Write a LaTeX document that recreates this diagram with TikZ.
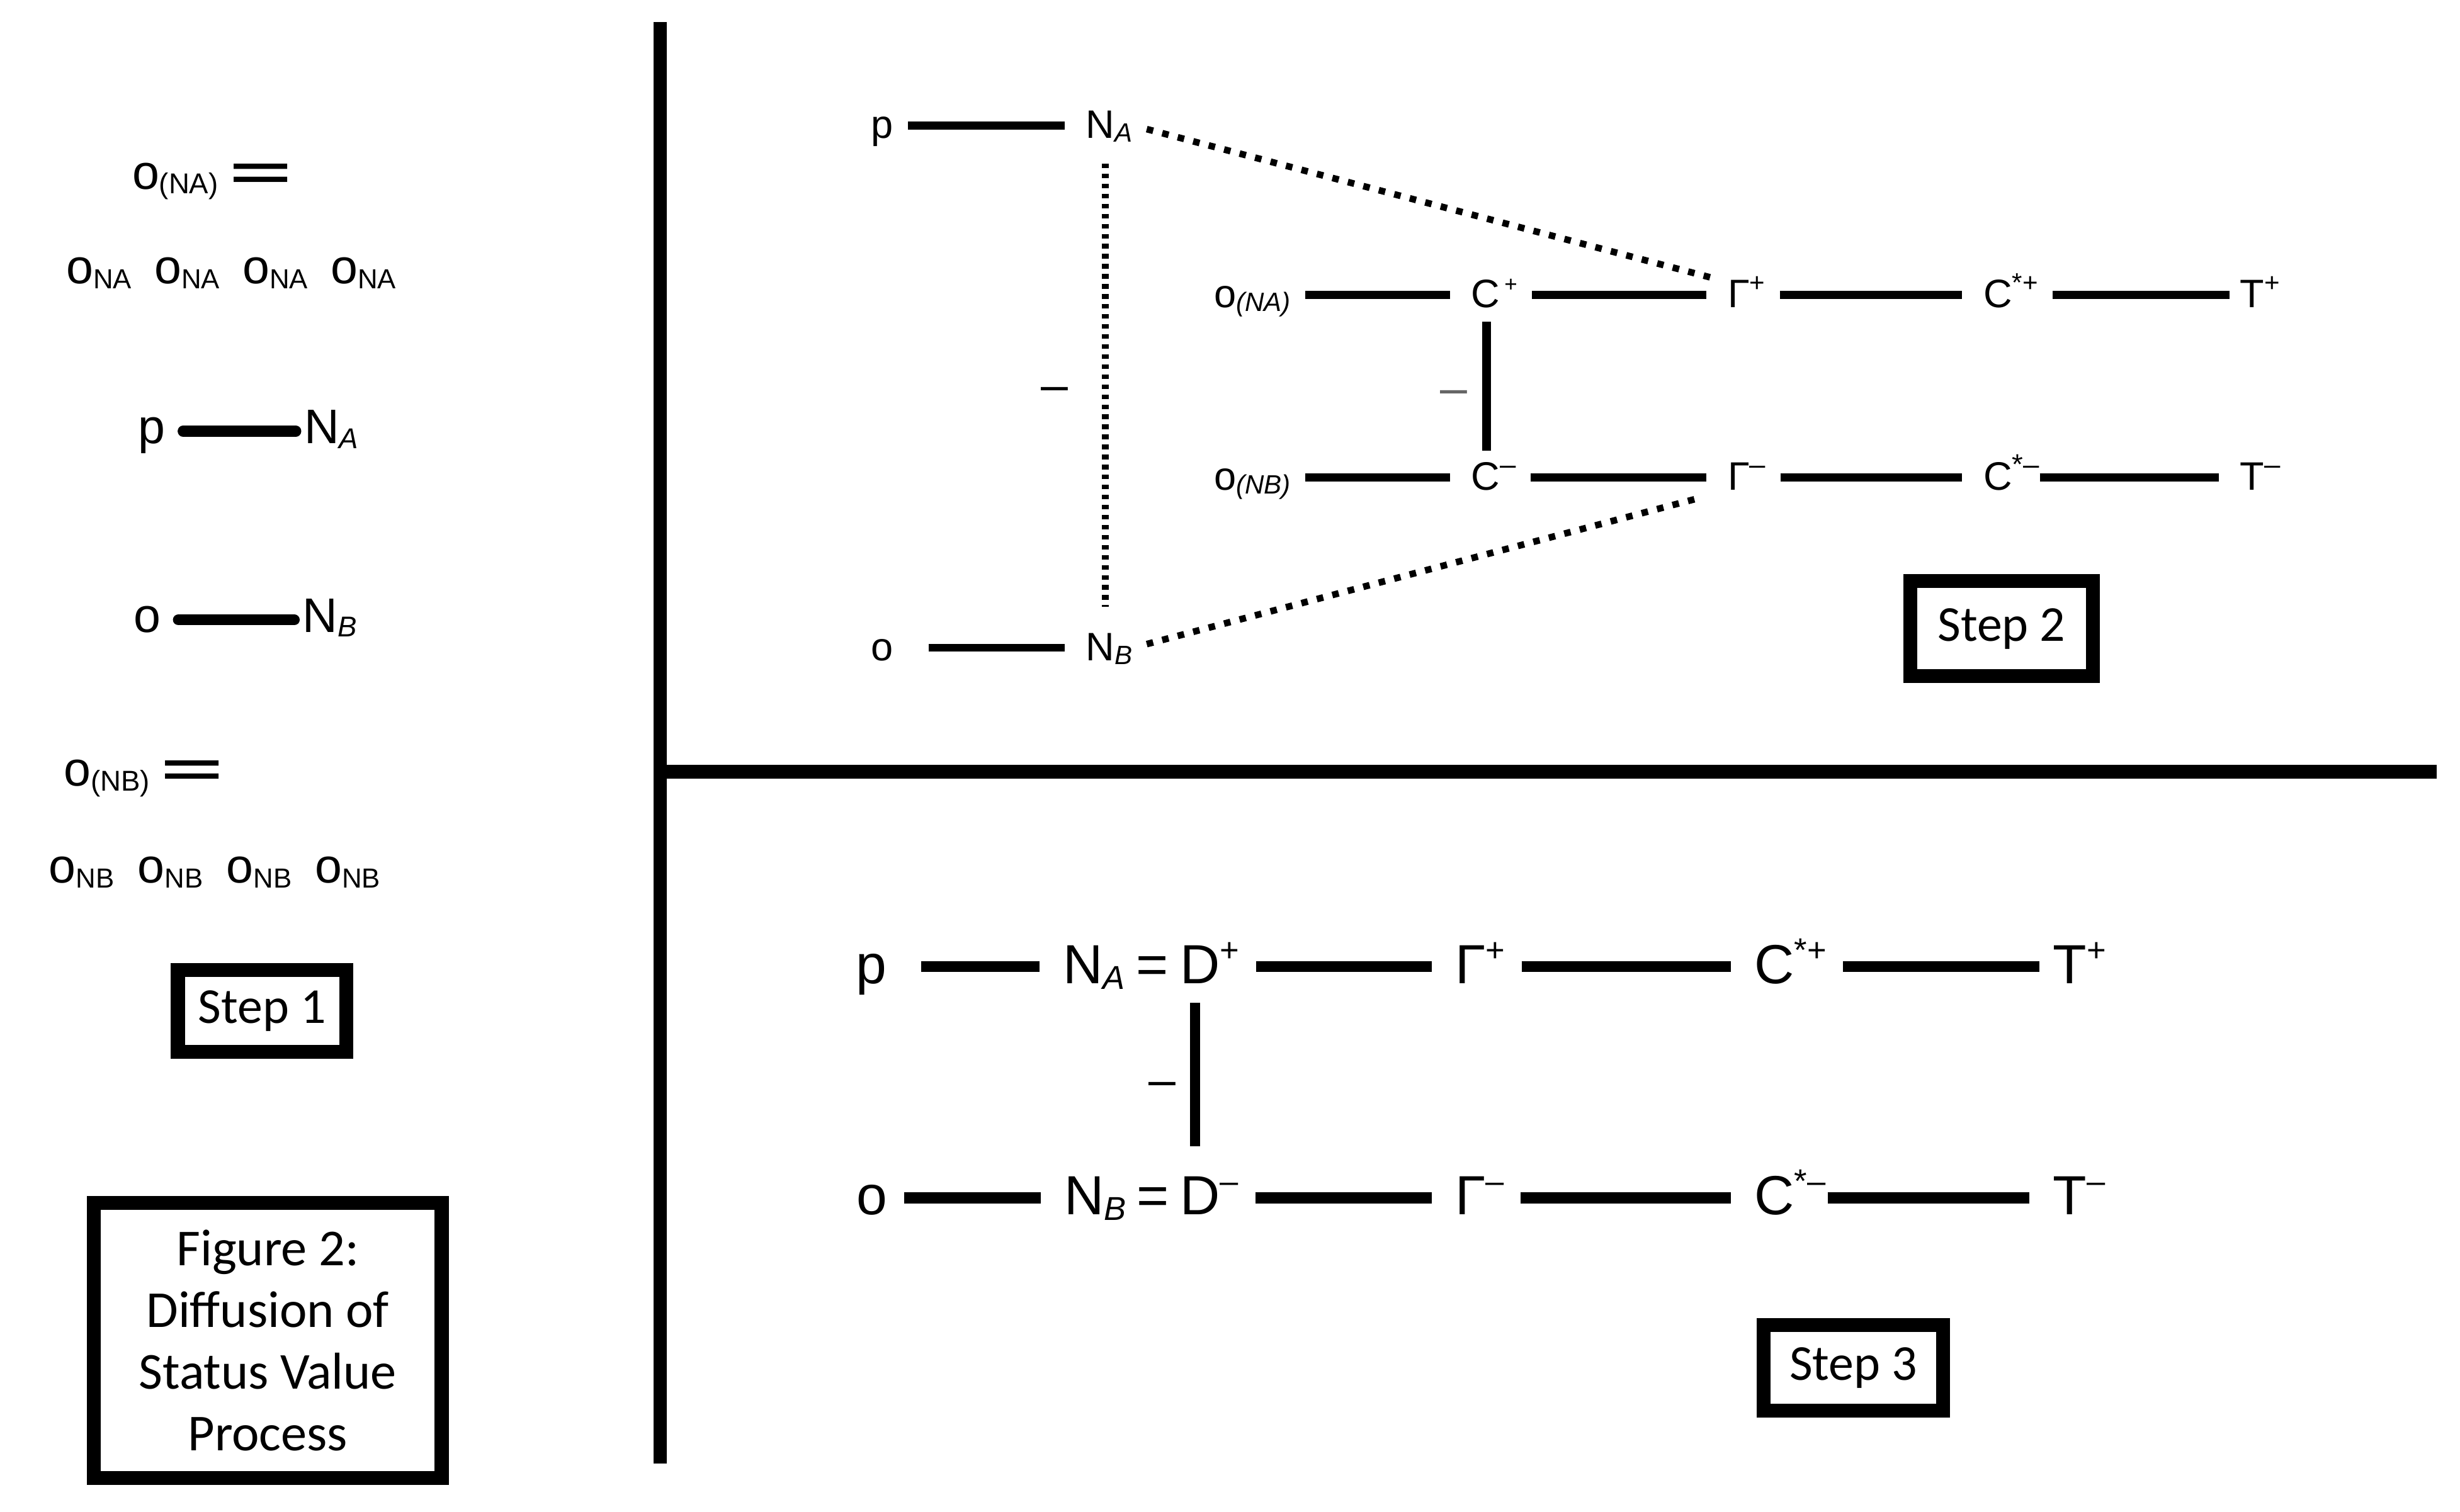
\documentclass[tikz,border=0pt]{standalone}
\usepackage{graphicx}
\usepackage{fontspec}
\setmainfont{Liberation Sans}
\newfontfamily\boxfont{Carlito}
\usetikzlibrary{positioning, calc}

\newcommand{\lowtext}[2]{\raisebox{-0.1em}{\fontsize{#1}{#1}\selectfont #2}}
\newcommand{\hightext}[2]{\raisebox{0.4em}{\fontsize{#1}{#1}\selectfont #2}}
\newcommand{\wideeq}{\scalebox{2.2}[1]{\bfseries =}}

\tikzset{
  lab1/.style={font=\fontsize{22}{22}\selectfont, anchor=base west, inner sep=0pt, text height=0.39cm, text depth=0pt},
  lab2/.style={font=\fontsize{18}{18}\selectfont, anchor=base west, inner sep=0pt, text height=0.4cm, text depth=0pt},
  lab3/.style={font=\fontsize{25}{25}\selectfont, anchor=base west, inner sep=0pt, text height=0.54cm, text depth=0pt},
  link1/.style={line width=5pt, line cap=round, shorten <=7.8pt, shorten >=3.6pt},
  link2/.style={line width=3.6pt, shorten <=6.5pt, shorten >=9.5pt},
  link3/.style={line width=5pt, shorten <=7.4pt, shorten >=10.4pt},
  dotlink/.style={line width=3pt, dash pattern=on 3pt off 4.25pt},
  vdotlink/.style={line width=3.1pt, dash pattern=on 2.1pt off 2.45pt},
  stepbox/.style={draw, line width=6.3pt, font=\boxfont\fontsize{22.8}{22.8}\selectfont, inner sep=0pt},
  divider/.style={line width=6.2pt},
  neg/.style={font=\fontsize{22}{22}\selectfont, anchor=base, inner sep=0pt},
}

\begin{document}
\begin{tikzpicture}[x=0.025cm, y=-0.025cm]
  \useasboundingbox[fill=white] (0,0) rectangle (1568,964);

  % dividers
  \coordinate (vtop) at (420.8,14);
  \coordinate (vbot) at (420.8,933);
  \coordinate (hleft) at (420.8,492);
  \coordinate (hright) at (1553,492);
  \draw[divider] (vtop) -- (vbot);
  \draw[divider] (hleft) -- (hright);

  % step 1
  \node[lab1] (oNA) at (84,120.5) {o\lowtext{13}{(NA)}\hspace{5pt}\wideeq};
  \foreach \i in {0,...,3}
    \node[lab1] (oNArow\i) at ({42+56.2*\i},181) {o\lowtext{12.5}{NA}};
  \node[lab1] (pA) at (88,282.7) {p};
  \node[lab1] (NA1) at (193.6,282.7) {N\lowtext{13}{\itshape A}};
  \draw[link1] (pA) -- (NA1);
  \node[lab1] (oB) at (85,403) {o};
  \node[lab1] (NB1) at (192.6,403) {N\lowtext{13}{\itshape B}};
  \draw[link1] (oB) -- (NB1);
  \node[lab1] (oNB) at (40.5,501) {o\lowtext{13}{(NB)}\hspace{5pt}\wideeq};
  \foreach \i in {0,...,3}
    \node[lab1] (oNBrow\i) at ({31+56.5*\i},563) {o\lowtext{12.5}{NB}};

  \node[stepbox, minimum width=2.68cm, minimum height=1.305cm] (step1) at (167,644.5) {Step 1};
  \node[stepbox, line width=6.4pt, minimum width=5.54cm, minimum height=4.38cm, align=center,
        font=\boxfont\fontsize{23.5}{28}\selectfont] (fig) at (170.7,854.6)
        {Figure 2:\\Diffusion of\\Status Value\\Process};

  % step 2
  \node[lab2] (p2) at (555,88) {p};
  \node[lab2] (NA2) at (692,88) {N\lowtext{12}{\itshape A}};
  \node[lab2] (o2) at (555,421) {o};
  \node[lab2] (NB2) at (692,421) {N\lowtext{12}{\itshape B}};
  \draw[link2] (p2) -- (NA2);
  \draw[link2, shorten <=16pt] (o2) -- (NB2);

  \node[lab2] (oNA2) at (773.5,196) {o\lowtext{12}{\itshape (NA)}};
  \node[lab2] (Cp) at (937.5,196) {C\hspace{2pt}\hightext{10}{+}};
  \node[lab2] (Gp) at (1101,196) {Γ\hightext{12}{+}};
  \node[lab2] (Csp) at (1264,196) {C\hightext{12}{*+}};
  \node[lab2] (Tp) at (1427.5,196) {T\hightext{12}{+}};
  \node[lab2] (oNB2) at (773.5,312.5) {o\lowtext{12}{\itshape (NB)}};
  \node[lab2] (Cm) at (937.5,312.5) {C\hightext{13}{–}};
  \node[lab2] (Gm) at (1101,312.5) {Γ\hightext{13}{–}};
  \node[lab2] (Csm) at (1264,312.5) {C\hightext{13}{*–}};
  \node[lab2] (Tm) at (1427.5,312.5) {T\hightext{13}{–}};

  \draw[link2] (oNA2) -- (Cp);
  \draw[link2] (Cp) -- (Gp);
  \draw[link2] (Gp) -- (Csp);
  \draw[link2, shorten >=4.6pt] (Csp) -- (Tp);
  \draw[link2] (oNB2) -- (Cm);
  \draw[link2] (Cm) -- (Gm);
  \draw[link2] (Gm) -- (Csm);
  \draw[link2, shorten <=0pt] (Csm) -- (Tm);
  \draw[line width=3.9pt, shorten <=6.4pt, shorten >=6.4pt] ([xshift=7.2pt]Cp.south west) -- ([xshift=7.2pt]Cm.north west);
  \node[neg, text=black!60] (neg2b) at (926.5,257.8) {–};

  \draw[dotlink, shorten <=6.5pt, shorten >=7pt] (NA2.east) -- (Gp.north west);
  \draw[dotlink, shorten <=6.5pt, shorten >=14pt] (NB2.east) -- (Gm.south west);
  \draw[vdotlink, shorten <=11.4pt, shorten >=12.8pt] ([xshift=9pt]NA2.south west) -- ([xshift=9pt]NB2.north west);
  \node[neg] (neg2a) at (672,256) {–};

  \node[stepbox, minimum width=2.91cm, minimum height=1.51cm] (step2) at (1275.75,400.75) {Step 2};

  % step 3
  \node[lab3] (p3) at (545.5,627) {p};
  \node[lab3] (NA3) at (677.3,627) {N\lowtext{15}{\itshape A}\hspace{5pt}=};
  \node[lab3] (Dp) at (752,627) {D\hightext{15}{+}};
  \node[lab3] (Gp3) at (927.2,627) {Γ\hightext{15}{+}};
  \node[lab3] (Csp3) at (1118,627) {C\hightext{15}{*+}};
  \node[lab3] (Tp3) at (1308.3,627) {T\hightext{15}{+}};
  \node[lab3] (o3) at (545.6,774.5) {o};
  \node[lab3] (NB3) at (678,774.5) {N\lowtext{15}{\itshape B}\hspace{5pt}=};
  \node[lab3] (Dm) at (752,774.5) {D\hightext{15}{–}};
  \node[lab3] (Gm3) at (927.2,774.5) {Γ\hightext{15}{–}};
  \node[lab3] (Csm3) at (1118,774.5) {C\hightext{15}{*–}};
  \node[lab3] (Tm3) at (1308.3,774.5) {T\hightext{15}{–}};

  \draw[link3, shorten <=15.4pt] (p3) -- (NA3);
  \draw[link3] (Dp) -- (Gp3);
  \draw[link3] (Gp3) -- (Csp3);
  \draw[link3, shorten >=5.9pt] (Csp3) -- (Tp3);
  \draw[link3] (o3) -- (NB3);
  \draw[link3] (Dm) -- (Gm3);
  \draw[link3] (Gm3) -- (Csm3);
  \draw[link3, shorten <=0.7pt] (Csm3) -- (Tm3);
  \draw[line width=4.6pt, shorten <=8.5pt, shorten >=15.6pt] ([xshift=7pt]Dp.south west) -- ([xshift=7pt]Dm.north west);
  \node[neg] (neg3) at (740.7,699) {–};

  \node[stepbox, minimum width=2.85cm, minimum height=1.36cm] (step3) at (1181.3,872) {Step 3};
\end{tikzpicture}
\end{document}
